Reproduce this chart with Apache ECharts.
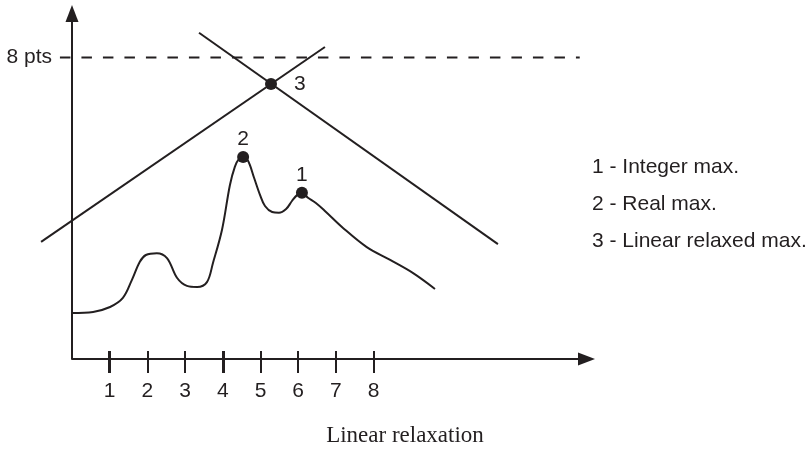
<!DOCTYPE html>
<html>
<head>
<meta charset="utf-8">
<script src="https://cdn.jsdelivr.net/npm/echarts@6/dist/echarts.min.js"></script>
<style>
  html, body { margin: 0; padding: 0; background: #ffffff; }
  #chart { width: 810px; height: 450px; }
</style>
</head>
<body>
<div id="chart"></div>
<script>
// Tick values shown on the horizontal axis (two of them drawn heavier)
const tickValues = [1, 2, 3, 4, 5, 6, 7, 8];
const heavyTicks = [1, 4];

// Objective curve over the relaxation axis
const curveX = [0, 0.56, 1.01, 1.35, 1.59, 1.80, 1.96, 2.25, 2.52, 2.79, 3.05, 3.32, 3.58, 3.74, 3.98, 4.19, 4.32,
                4.43, 4.54, 4.67, 4.83, 4.99, 5.12, 5.31, 5.49, 5.68, 5.84, 5.97, 6.10,
                6.26, 6.47, 6.71, 7.19, 7.82, 8.44, 9.05, 9.63];
const curveY = [1.22, 1.25, 1.38, 1.62, 2.10, 2.58, 2.76, 2.81, 2.68, 2.15, 1.94, 1.91, 2.04, 2.55, 3.43, 4.62, 5.10,
                5.31, 5.36, 5.26, 4.81, 4.35, 4.06, 3.90, 3.88, 3.98, 4.20, 4.35, 4.41,
                4.28, 4.14, 3.93, 3.48, 2.97, 2.63, 2.28, 1.86];

// The two straight constraint lines
const riseX = [-0.82, 6.71];
const riseY = [3.11, 8.28];
const fallX = [3.37, 11.30];
const fallY = [8.66, 3.05];

// Horizontal 8-point level
const levelValue = 8;
const levelText = '8 pts';
const levelX = [-0.32, 13.47];

// Horizontal axis extent (origin to arrow)
const axisRunX = [0, 13.65];

// Marked maxima
const maxNames = ['1', '2', '3'];
const maxX = [6.10, 4.54, 5.28];
const maxY = [4.41, 5.36, 7.30];

// Key text
const keyLines = ['1 - Integer max.', '2 - Real max.', '3 - Linear relaxed max.'];
const axisTitle = 'Linear relaxation';

const INK = '#231f20';
const SANS = '"Liberation Sans", Arial, sans-serif';
const SERIF = '"Liberation Serif", "Times New Roman", serif';

const chart = echarts.init(document.getElementById('chart'), null, { renderer: 'canvas' });

const xBase = {
  type: 'value', min: -1, max: 13.875, position: 'bottom',
  axisLine: { show: false },
  splitLine: { show: false }
};

const labelPos = { '1': 'top', '2': 'top', '3': 'right' };

const option = {
  animation: false,
  backgroundColor: '#ffffff',
  grid: { left: 34.3, top: 13.5, right: 215, bottom: 91, containLabel: false, outerBoundsMode: 'none' },
  xAxis: [
    Object.assign({}, xBase, {
      axisTick: { show: true, customValues: tickValues, inside: false, length: 14,
                  lineStyle: { color: INK, width: 2 } },
      axisLabel: { show: true, customValues: tickValues, margin: 22, fontSize: 21,
                   color: INK, fontFamily: SANS }
    }),
    Object.assign({}, xBase, {
      axisTick: { show: true, customValues: tickValues, inside: true, length: 8,
                  lineStyle: { color: INK, width: 2 } },
      axisLabel: { show: false }
    }),
    Object.assign({}, xBase, {
      axisTick: { show: true, customValues: heavyTicks, inside: false, length: 14,
                  lineStyle: { color: INK, width: 3 } },
      axisLabel: { show: false }
    }),
    Object.assign({}, xBase, {
      axisTick: { show: true, customValues: heavyTicks, inside: true, length: 8,
                  lineStyle: { color: INK, width: 3 } },
      axisLabel: { show: false }
    })
  ],
  yAxis: {
    type: 'value', min: 0, max: 9.17,
    axisLine: { show: true, onZero: true, symbol: ['none', 'triangle'], symbolSize: [13, 17],
                lineStyle: { color: INK, width: 2 } },
    axisTick: { show: false },
    splitLine: { show: false },
    // the label is laid out from the grid edge, so pull it in to sit left of the zero line
    axisLabel: { show: true, customValues: [levelValue], formatter: function () { return levelText; },
                 margin: -17.7, fontSize: 21, color: INK, fontFamily: SANS }
  },
  series: [
    {
      // horizontal axis line with arrow head, starting at the origin
      type: 'line', symbol: 'none', silent: true, data: [],
      markLine: {
        silent: true, animation: false,
        symbol: ['none', 'triangle'], symbolSize: [13, 17],
        lineStyle: { color: INK, width: 2, type: 'solid' },
        itemStyle: { color: INK },
        label: { show: false },
        emphasis: { disabled: true },
        data: [[{ coord: [axisRunX[0], 0] }, { coord: [axisRunX[1], 0] }]]
      }
    },
    {
      type: 'line', symbol: 'none', silent: true,
      data: levelX.map(function (x) { return [x, levelValue]; }),
      lineStyle: { color: INK, width: 2, type: [10.5, 11] }
    },
    {
      type: 'line', symbol: 'none', silent: true,
      data: riseX.map(function (x, i) { return [x, riseY[i]]; }),
      lineStyle: { color: INK, width: 2 }
    },
    {
      type: 'line', symbol: 'none', silent: true,
      data: fallX.map(function (x, i) { return [x, fallY[i]]; }),
      lineStyle: { color: INK, width: 2 }
    },
    {
      type: 'line', symbol: 'none', silent: true, smooth: 0.35,
      data: curveX.map(function (x, i) { return [x, curveY[i]]; }),
      lineStyle: { color: INK, width: 2 }
    },
    {
      type: 'scatter', silent: true, symbol: 'circle', symbolSize: 12,
      itemStyle: { color: INK, opacity: 1 },
      data: maxNames.map(function (n, i) {
        return {
          name: n, value: [maxX[i], maxY[i]],
          label: { position: labelPos[n], distance: labelPos[n] === 'right' ? 17 : 1 }
        };
      }),
      label: { show: true, formatter: '{b}', fontSize: 21, color: INK, fontFamily: SANS, opacity: 1 }
    }
  ],
  graphic: keyLines.map(function (t, i) {
    return {
      type: 'text', x: 592, y: 167 + i * 37,
      style: { text: t, font: '21px ' + SANS, fill: INK, align: 'left', verticalAlign: 'middle' }
    };
  }).concat([{
    type: 'text', x: 405, y: 436,
    style: { text: axisTitle, font: '23px ' + SERIF, fill: INK, align: 'center', verticalAlign: 'middle' }
  }])
};

chart.setOption(option);
</script>
</body>
</html>
